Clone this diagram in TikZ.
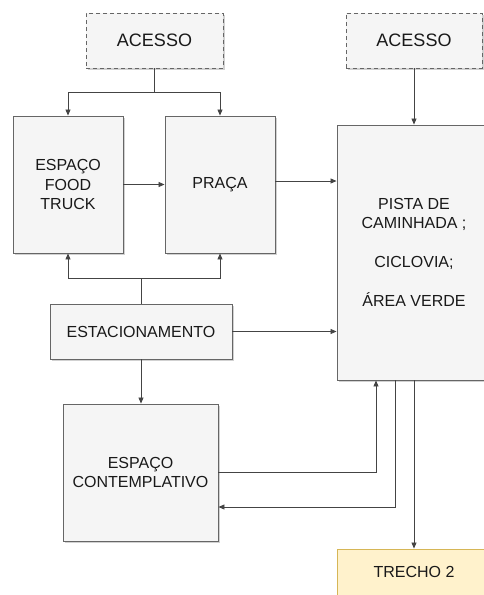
\documentclass[tikz,border=0pt]{standalone}
\usepackage{fontspec}
\setmainfont{Liberation Sans}
\usetikzlibrary{arrows.meta,shadows}
\definecolor{boxfill}{HTML}{F5F5F5}
\definecolor{boxline}{HTML}{666666}
\definecolor{yfill}{HTML}{FFF2CC}
\definecolor{yline}{HTML}{D6B656}
\definecolor{lnk}{HTML}{444444}
\begin{document}
\begin{tikzpicture}[x=1pt,y=-1pt,
  box/.style={draw=boxline,fill=boxfill,line width=0.9pt,align=center,inner sep=2pt,
    text=black!90,font=\fontsize{16}{19.5}\selectfont,
    drop shadow={shadow xshift=2pt,shadow yshift=-2pt,fill=black,opacity=0.18}},
  accbox/.style={box,dashed,dash pattern=on 4pt off 3pt,font=\fontsize{18}{21}\selectfont},
  ybox/.style={box,draw=yline,fill=yfill},
  arr/.style={draw=lnk,line width=0.8pt,-{Triangle[length=6pt,width=5pt]}},
  ln/.style={draw=lnk,line width=0.8pt}]
\useasboundingbox (0,0) rectangle (483,595);
\node[accbox,minimum width=137pt,minimum height=55pt] (acc1) at (154.5,40.5) {ACESSO};
\node[accbox,minimum width=136pt,minimum height=55pt] (acc2) at (414,40.5) {ACESSO};
\node[box,minimum width=110pt,minimum height=137pt] (food) at (68,184.5) {ESPAÇO\\FOOD\\TRUCK};
\node[box,minimum width=110pt,minimum height=137pt] (praca) at (220,184.5) {PRAÇA};
\node[box,minimum width=154pt,minimum height=255pt] (pista) at (414,252.5) {PISTA DE\\CAMINHADA ;\\[19.5pt]CICLOVIA;\\[19.5pt]ÁREA VERDE};
\node[box,minimum width=182pt,minimum height=55pt] (estac) at (141,331.5) {ESTACIONAMENTO};
\node[box,minimum width=155pt,minimum height=137pt] (contemp) at (140.5,472.5) {ESPAÇO\\CONTEMPLATIVO};
\node[ybox,minimum width=154pt,minimum height=46pt] (trecho) at (414,572) {TRECHO 2};

\draw[arr] (acc1.south) -- ++(0,24) -| (food.north);
\draw[arr] (acc1.south) -- ++(0,24) -| (praca.north);
\draw[arr] (acc2.south) -- (pista.north);
\draw[arr] (food.east) -- (praca.west);
\draw[arr] ([yshift=3.5pt]praca.east) -- ([yshift=3.5pt]praca.east -| pista.west);
\draw[arr] (estac.north) -- ++(0,-25) -| (food.south);
\draw[arr] (estac.north) -- ++(0,-25) -| (praca.south);
\draw[arr] (estac.east) -- (estac.east -| pista.west);
\draw[arr] (estac.south) -- (estac.south |- contemp.north);
\draw[arr] (contemp.east) -| ([xshift=-38pt]pista.south);
\draw[arr] ([xshift=-19pt]pista.south) |- ([yshift=-34.5pt]contemp.east);
\draw[arr] (pista.south) -- (trecho.north);
\end{tikzpicture}
\end{document}
